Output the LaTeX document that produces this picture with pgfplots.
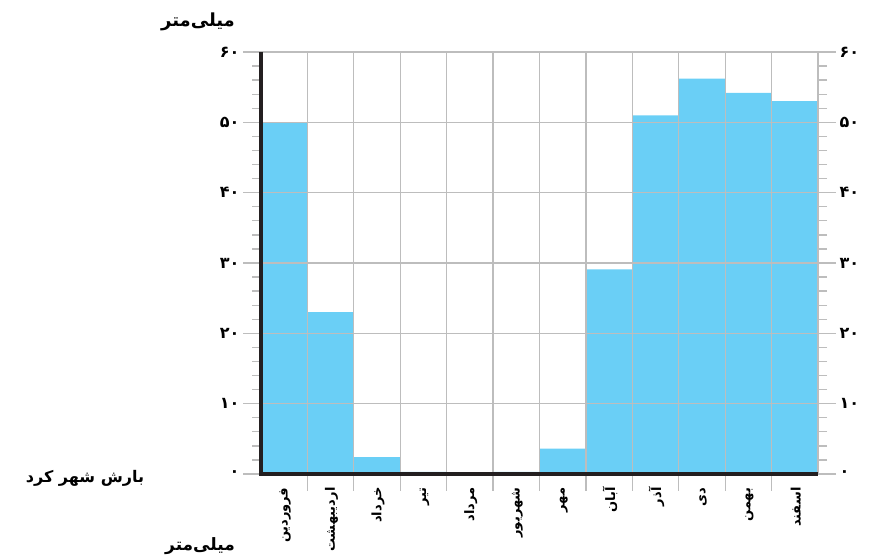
\documentclass[border=0pt]{standalone}
\usepackage{pgfplots}
\pgfplotsset{compat=1.18}
\usepackage{fontspec}
\TeXXeTstate=1
\newfontfamily\fa[Script=Arabic]{DejaVu Sans}
\newcommand\rtl[1]{\beginR #1\endR}
\definecolor{barblue}{HTML}{6ACFF6}
\definecolor{gridgray}{HTML}{BDBDBD}
\definecolor{axblack}{HTML}{231F20}
\begin{document}
\begin{tikzpicture}[x=1pt,y=1pt]
\useasboundingbox (0,0) rectangle (869,559);
\clip (0,0) rectangle (869,559);
\begin{axis}[
  at={(261pt,85pt)}, anchor=south west,
  scale only axis, width=557pt, height=422pt,
  xmin=0, xmax=12, ymin=0, ymax=60,
  axis on top, clip=false,
  ytick={0,10,...,60}, minor y tick num=4,
  yticklabels={۰,۱۰,۲۰,۳۰,۴۰,۵۰,۶۰},
  yticklabel style={font=\fa\bfseries\fontsize{16}{16}\selectfont},
  ytick pos=both, yticklabel pos=left,
  ymajorgrids, major grid style={gridgray, line width=1.3pt},
  tick align=outside, major tick length=18pt, minor tick length=9pt,
  every tick/.style={gridgray, line width=1.3pt},
  xtick={0.5,1.5,...,11.5},
  xticklabels={\rtl{فروردین},\rtl{اردیبهشت},\rtl{خرداد},\rtl{تیر},\rtl{مرداد},\rtl{شهریور},\rtl{مهر},\rtl{آبان},\rtl{آذر},\rtl{دی},\rtl{بهمن},\rtl{اسفند}},
  x tick style={draw=none},
  xticklabel style={rotate=90, anchor=east, xshift=8pt, yshift=-1pt, font=\fa\bfseries\fontsize{13}{13}\selectfont},
  minor xtick={1,2,...,11}, xminorgrids,
  minor grid style={gridgray, line width=1.3pt},
  axis line style={gridgray, line width=1.3pt},
  after end axis/.code={
    \draw[axblack, line width=3.5pt, line join=miter] (rel axis cs:0,1) -- (rel axis cs:0,0) -- (rel axis cs:1,0);
  },
]
\addplot[ybar, bar width=1, bar shift=0pt, fill=barblue, draw=none]
  coordinates {(0.5,50) (1.5,23) (2.5,2.4) (3.5,0.3) (4.5,0) (5.5,0.3) (6.5,3.6) (7.5,29.1) (8.5,51) (9.5,56.2) (10.5,54.2) (11.5,53)};
\pgfplotsinvokeforeach{1,...,11}{
  \draw[gridgray, line width=1.3pt] (axis cs:#1,0) -- ++(0pt,-17pt);
}
\end{axis}
\begin{axis}[
  at={(261pt,85pt)}, anchor=south west,
  scale only axis, width=557pt, height=422pt,
  xmin=0, xmax=12, ymin=0, ymax=60,
  axis line style={draw=none},
  xtick=\empty,
  ytick={0,10,...,60},
  yticklabels={۰,۱۰,۲۰,۳۰,۴۰,۵۰,۶۰},
  yticklabel style={font=\fa\bfseries\fontsize{16}{16}\selectfont},
  ytick pos=right, yticklabel pos=right,
  tick align=outside, major tick length=18pt,
  y tick style={draw=none},
]
\end{axis}
\node[font=\fa\bfseries\fontsize{18}{18}\selectfont] at (198,537) {\rtl{میلی‌متر}};
\node[font=\fa\bfseries\fontsize{16}{16}\selectfont] at (85,81) {\rtl{بارش شهر کرد}};
\node[font=\fa\bfseries\fontsize{17}{17}\selectfont, anchor=south] at (200,1) {\rtl{میلی‌متر}};
\end{tikzpicture}
\end{document}
